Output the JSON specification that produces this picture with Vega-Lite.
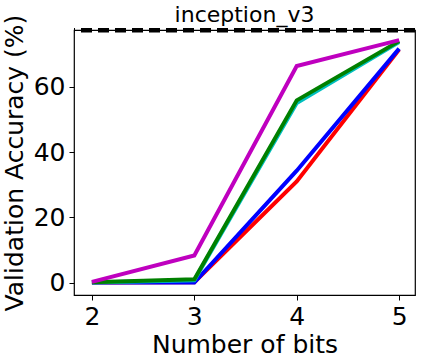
{
  "$schema": "https://vega.github.io/schema/vega-lite/v6.json",
  "width": 341,
  "height": 265,
  "autosize": "none",
  "padding": {"left": 74, "top": 30, "right": 9, "bottom": 66},
  "background": "white",
  "config": {
    "font": "DejaVu Sans",
    "view": {"stroke": "black", "strokeWidth": 1.2},
    "axis": {"grid": false, "domain": false, "tickColor": "black", "tickSize": 5, "tickWidth": 1, "labelColor": "black", "titleColor": "black", "labelFont": "DejaVu Sans", "titleFont": "DejaVu Sans", "labelFontSize": 25, "titleFontSize": 25, "titleFontWeight": "normal", "labelPadding": 4}
  },
  "title": {"text": "inception_v3", "fontSize": 22, "font": "DejaVu Sans", "fontWeight": "normal", "color": "black", "offset": -13},
  "data": {"values": [
    {"bits": 2, "acc": 0.1, "s": "red"},
    {"bits": 3, "acc": 0.2, "s": "red"},
    {"bits": 4, "acc": 31.0, "s": "red"},
    {"bits": 5, "acc": 71.3, "s": "red"},
    {"bits": 2, "acc": 0.1, "s": "blue"},
    {"bits": 3, "acc": 0.1, "s": "blue"},
    {"bits": 4, "acc": 34.3, "s": "blue"},
    {"bits": 5, "acc": 71.6, "s": "blue"},
    {"bits": 2, "acc": 0.1, "s": "cyan"},
    {"bits": 3, "acc": 0.8, "s": "cyan"},
    {"bits": 4, "acc": 55.0, "s": "cyan"},
    {"bits": 5, "acc": 73.6, "s": "cyan"},
    {"bits": 2, "acc": 0.2, "s": "green"},
    {"bits": 3, "acc": 1.1, "s": "green"},
    {"bits": 4, "acc": 55.8, "s": "green"},
    {"bits": 5, "acc": 73.9, "s": "green"},
    {"bits": 2, "acc": 0.3, "s": "magenta"},
    {"bits": 3, "acc": 8.4, "s": "magenta"},
    {"bits": 4, "acc": 66.3, "s": "magenta"},
    {"bits": 5, "acc": 74.2, "s": "magenta"}
  ]},
  "layer": [
    {
      "mark": {"type": "line", "strokeWidth": 4, "clip": true},
      "encoding": {
        "x": {"field": "bits", "type": "quantitative", "scale": {"domain": [1.825, 5.155], "nice": false, "zero": false}, "axis": {"values": [2, 3, 4, 5], "title": "Number of bits", "titlePadding": 3}},
        "y": {"field": "acc", "type": "quantitative", "scale": {"domain": [-3.7, 77.3], "nice": false, "zero": false}, "axis": {"values": [0, 20, 40, 60], "title": "Validation Accuracy (%)", "titlePadding": 6}},
        "color": {"field": "s", "type": "nominal", "scale": {"domain": ["red", "blue", "cyan", "green", "magenta"], "range": ["#ff0000", "#0000ff", "#00bfbf", "#008000", "#bf00bf"]}, "legend": null}
      }
    },
    {
      "data": {"values": [{"base": 77.2}]},
      "mark": {"type": "rule", "color": "black", "strokeWidth": 4.5, "strokeDash": [11, 6]},
      "encoding": {"y": {"field": "base", "type": "quantitative"}}
    }
  ]
}
